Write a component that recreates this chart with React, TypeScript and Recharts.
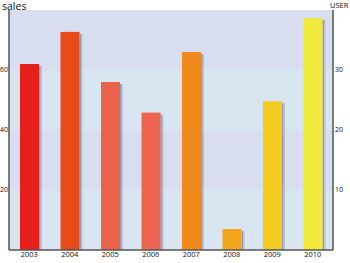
import React from "react";
import { ComposedChart, Bar, Line, XAxis, YAxis, Cell, ReferenceArea } from "recharts";

const years = ["2003", "2004", "2005", "2006", "2007", "2008", "2009", "2010"];
const sales = [62, 72.7, 56, 45.8, 66, 7, 49.6, 77.3];
const leftTicks = [20, 40, 60];
const rightTicks = [10, 20, 30];

const barColors = ["#e51f1b", "#e94a1a", "#ec634c", "#ec6550", "#f08a1c", "#f4a51e", "#f4cc20", "#f0e83a"];
const bandColors = ["#d9e6f2", "#d9ddf0", "#d9e6f2", "#d9ddf0"];
const bandEdges = [0, 20, 40, 60, 80];

const data = years.map((y, i) => ({ year: y, sales: sales[i] }));

const ShadowBar = (props: any) => {
  const { x, y, width, height, fill } = props;
  if (height <= 0) return null;
  return (
    <g>
      <rect x={x + width} y={y + 2} width={1.5} height={height - 2} fill="#7d8296" opacity={0.75} />
      <rect x={x + width + 1.5} y={y + 2} width={1.5} height={height - 2} fill="#9ca1b5" opacity={0.5} />
      <rect x={x} y={y} width={width} height={height} fill={fill} />
    </g>
  );
};

export default function App() {
  const font = "'Open Sans', 'DejaVu Sans', sans-serif";
  return (
    <div style={{ position: "absolute", left: 0, top: 0, width: 350, height: 263, background: "#fff", fontFamily: font }}>
      <div style={{ position: "absolute", left: 2, top: 1, fontSize: 10.5, lineHeight: "11px", color: "#111" }}>sales</div>
      <div style={{ position: "absolute", left: 330, top: 1, fontSize: 7.5, lineHeight: "9px", color: "#111" }}>USER</div>
      <ComposedChart
        width={350}
        height={263}
        data={data}
        margin={{ top: 10, right: 0, left: 0, bottom: 0 }}
        barCategoryGap={0}
      >
        {bandColors.map((c, i) => (
          <ReferenceArea
            key={i}
            yAxisId="left"
            y1={bandEdges[i]}
            y2={bandEdges[i + 1]}
            fill={c}
            fillOpacity={1}
            stroke="none"
            ifOverflow="hidden"
          />
        ))}
        <XAxis
          dataKey="year"
          height={13}
          tickLine={false}
          tickSize={0}
          axisLine={{ stroke: "#555", strokeWidth: 1.5 }}
          tick={{ fontSize: 7.5, fill: "#111", fontFamily: font }}
          tickMargin={2}
          interval={0}
        />
        <YAxis
          yAxisId="left"
          orientation="left"
          width={9}
          domain={[0, 80]}
          ticks={leftTicks}
          tickLine={false}
          tickSize={0}
          axisLine={{ stroke: "#555", strokeWidth: 1.5 }}
          tick={{ fontSize: 7, fill: "#111", fontFamily: font }}
          tickMargin={1}
        />
        <YAxis
          yAxisId="right"
          orientation="right"
          width={17}
          domain={[0, 40]}
          allowDataOverflow
          ticks={rightTicks}
          tickLine={false}
          tickSize={0}
          axisLine={{ stroke: "#555", strokeWidth: 1.5 }}
          tick={{ fontSize: 7, fill: "#111", fontFamily: font }}
          tickMargin={2}
        />
        <Bar yAxisId="left" dataKey="sales" barSize={19} isAnimationActive={false} shape={<ShadowBar />}>
          {data.map((d, i) => (
            <Cell key={d.year} fill={barColors[i]} />
          ))}
        </Bar>
        <Line
          yAxisId="right"
          dataKey="sales"
          stroke="none"
          strokeWidth={0}
          dot={false}
          activeDot={false}
          isAnimationActive={false}
        />
      </ComposedChart>
    </div>
  );
}
